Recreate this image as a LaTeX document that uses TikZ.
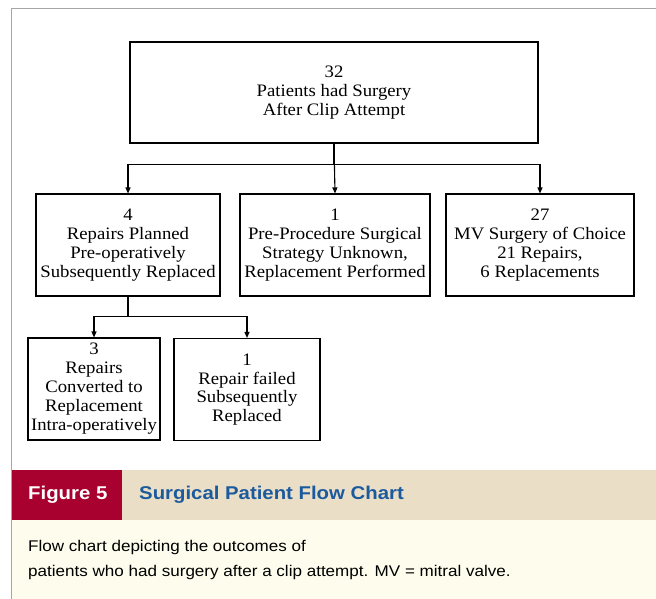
\documentclass[tikz,border=0pt]{standalone}
\usepackage{fontspec}
\setmainfont[FakeStretch=1.07]{Liberation Serif}
\newfontfamily\capfont[FakeStretch=1.1]{Liberation Sans}
\usetikzlibrary{positioning, arrows.meta}

\definecolor{figred}{HTML}{A8002F}
\definecolor{figbeige}{HTML}{EADEC6}
\definecolor{figcream}{HTML}{FEFCEC}
\definecolor{figblue}{HTML}{1C5A9E}

\begin{document}
\begin{tikzpicture}[
    x=1pt, y=-1pt,
    font=\fontsize{17.5}{19}\selectfont,
    box/.style={draw, line width=1.1pt, minimum width=#1, minimum height=102pt,
                align=center, inner sep=1pt},
    arr/.style={-{Triangle[length=6pt,width=5pt]}, line width=1.1pt},
    captxt/.style={font=\capfont\fontsize{15.5}{25}\selectfont, anchor=west, inner sep=0pt},
    captitle/.style={font=\capfont\bfseries\fontsize{18.5}{25}\selectfont, anchor=west, inner sep=0pt},
]
\useasboundingbox (0,0) rectangle (656,599);

% ── Frame and caption band ───────────────────────────────────
\fill[figcream] (11,520) rectangle (656,599);
\fill[figbeige] (122,470) rectangle (656,520);
\fill[figred] (11,470) rectangle (122,520);
\draw[gray!70, line width=0.8pt] (11,599) -- (11,8) -- (656,8);

% ── Top ──────────────────────────────────────────────────────
\node[box=408pt, minimum height=101pt] (total) at (334,92.5) {
    32\\
    Patients had Surgery\\
    After Clip Attempt
};

% ── Middle row ───────────────────────────────────────────────
\node[box=184pt] (planned) at (128,245) {
    4\\
    Repairs Planned\\
    Pre-operatively\\
    Subsequently Replaced
};
\node[box=190pt] (unknown) at (335,245) {
    1\\
    Pre-Procedure Surgical\\
    Strategy Unknown,\\
    Replacement Performed
};
\node[box=188pt] (choice) at (540,245) {
    27\\
    MV Surgery of Choice\\
    21 Repairs,\\
    6 Replacements
};

\draw[arr] (total.south) -- ++(0,21) -| (planned.north);
\draw[arr] (total.south) -- (unknown.north);
\draw[arr] (total.south) -- ++(0,21) -| (choice.north);

% ── Bottom row ───────────────────────────────────────────────
\node[box=132pt] (converted) at (94,389) {
    3\\
    Repairs\\
    Converted to\\
    Replacement\\
    Intra-operatively
};
\node[box=146pt, font=\fontsize{17.5}{18.5}\selectfont] (failed) at (247,389.5) {
    1\\
    Repair failed\\
    Subsequently\\
    Replaced
};

\draw[arr] (planned.south) -- ++(0,20) -| (converted.north);
\draw[arr] (planned.south) -- ++(0,20) -| (failed.north);

% ── Caption ──────────────────────────────────────────────────
\node[captitle, white] (fignum) at (28,495) {Figure 5};
\node[captitle, figblue] (figtitle) at (139,495) {Surgical Patient Flow Chart};
\node[captxt] (capone) at (28,547) {Flow chart depicting the outcomes of};
\node[captxt] (captwo) at (28,572) {patients who had surgery after a clip attempt. MV = mitral valve.};

\end{tikzpicture}
\end{document}
